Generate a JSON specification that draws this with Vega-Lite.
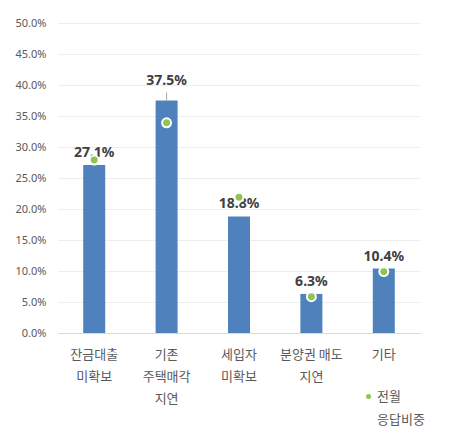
{
  "$schema": "https://vega.github.io/schema/vega-lite/v6.json",
  "autosize": "none",
  "padding": {"left": 58, "top": 23, "right": 41, "bottom": 94},
  "width": 362,
  "height": 310,
  "background": "white",
  "data": {
    "values": [
      {"cat": "잔금대출|미확보", "share": 0.271, "prev": 0.279, "legend": "전월|응답비중"},
      {"cat": "기존|주택매각|지연", "share": 0.375, "prev": 0.339, "legend": "전월|응답비중"},
      {"cat": "세입자|미확보", "share": 0.188, "prev": 0.219, "legend": "전월|응답비중"},
      {"cat": "분양권 매도|지연", "share": 0.063, "prev": 0.0585, "legend": "전월|응답비중"},
      {"cat": "기타", "share": 0.104, "prev": 0.099, "legend": "전월|응답비중"}
    ]
  },
  "encoding": {
    "x": {
      "field": "cat",
      "type": "nominal",
      "sort": null,
      "title": null,
      "axis": {
        "labelAngle": 0,
        "labelExpr": "split(datum.label, '|')",
        "labelLineHeight": 22,
        "labelPadding": 15,
        "labelFontSize": 13,
        "labelColor": "#595959",
        "labelFont": "Noto Sans CJK KR",
        "ticks": false,
        "domainColor": "#d9d9d9",
        "grid": false
      }
    },
    "y": {
      "field": "share",
      "type": "quantitative",
      "title": null,
      "scale": {"domain": [0, 0.5]},
      "axis": {
        "format": ".1%",
        "values": [0, 0.05, 0.1, 0.15, 0.2, 0.25, 0.3, 0.35, 0.4, 0.45, 0.5],
        "domain": false,
        "ticks": false,
        "labelPadding": 12,
        "labelFontSize": 11,
        "labelColor": "#595959",
        "labelFont": "Noto Sans",
        "gridColor": "#ededed"
      }
    }
  },
  "layer": [
    {
      "mark": {"type": "bar", "size": 22, "color": "#4f81bd"}
    },
    {
      "transform": [{"filter": "datum.share != 0.375"}],
      "mark": {"type": "text", "dy": -12, "fontSize": 14, "fontWeight": "bold", "color": "#404040", "font": "Noto Sans"},
      "encoding": {"text": {"field": "share", "format": ".1%"}}
    },
    {
      "transform": [{"filter": "datum.share == 0.375"}],
      "mark": {"type": "text", "dy": -20, "fontSize": 14, "fontWeight": "bold", "color": "#404040", "font": "Noto Sans"},
      "encoding": {"text": {"field": "share", "format": ".1%"}}
    },
    {
      "transform": [{"filter": "datum.share == 0.375"}, {"calculate": "datum.share + 0.013", "as": "top"}],
      "mark": {"type": "rule", "color": "#a6a6a6", "strokeWidth": 1},
      "encoding": {"y": {"field": "share", "type": "quantitative"}, "y2": {"field": "top"}}
    },
    {
      "mark": {"type": "point", "filled": true, "size": 80, "stroke": "white", "strokeWidth": 2, "strokeOpacity": 1, "opacity": 1},
      "encoding": {
        "y": {"field": "prev", "type": "quantitative"},
        "color": {
          "field": "legend",
          "type": "nominal",
          "scale": {"range": ["#8dc454"]},
          "legend": {
            "title": null,
            "orient": "none",
            "legendX": 304,
            "legendY": 367,
            "labelExpr": "split(datum.label, '|')",
            "labelFontSize": 13,
            "labelColor": "#595959",
            "labelFont": "Noto Sans CJK KR",
            "labelBaseline": "middle",
            "symbolType": "circle",
            "symbolSize": 25,
            "symbolStrokeWidth": 0,
            "labelOffset": 2
          }
        }
      }
    }
  ],
  "config": {
    "view": {"stroke": null},
    "style": {"guide-label": {"lineHeight": 23}}
  }
}
